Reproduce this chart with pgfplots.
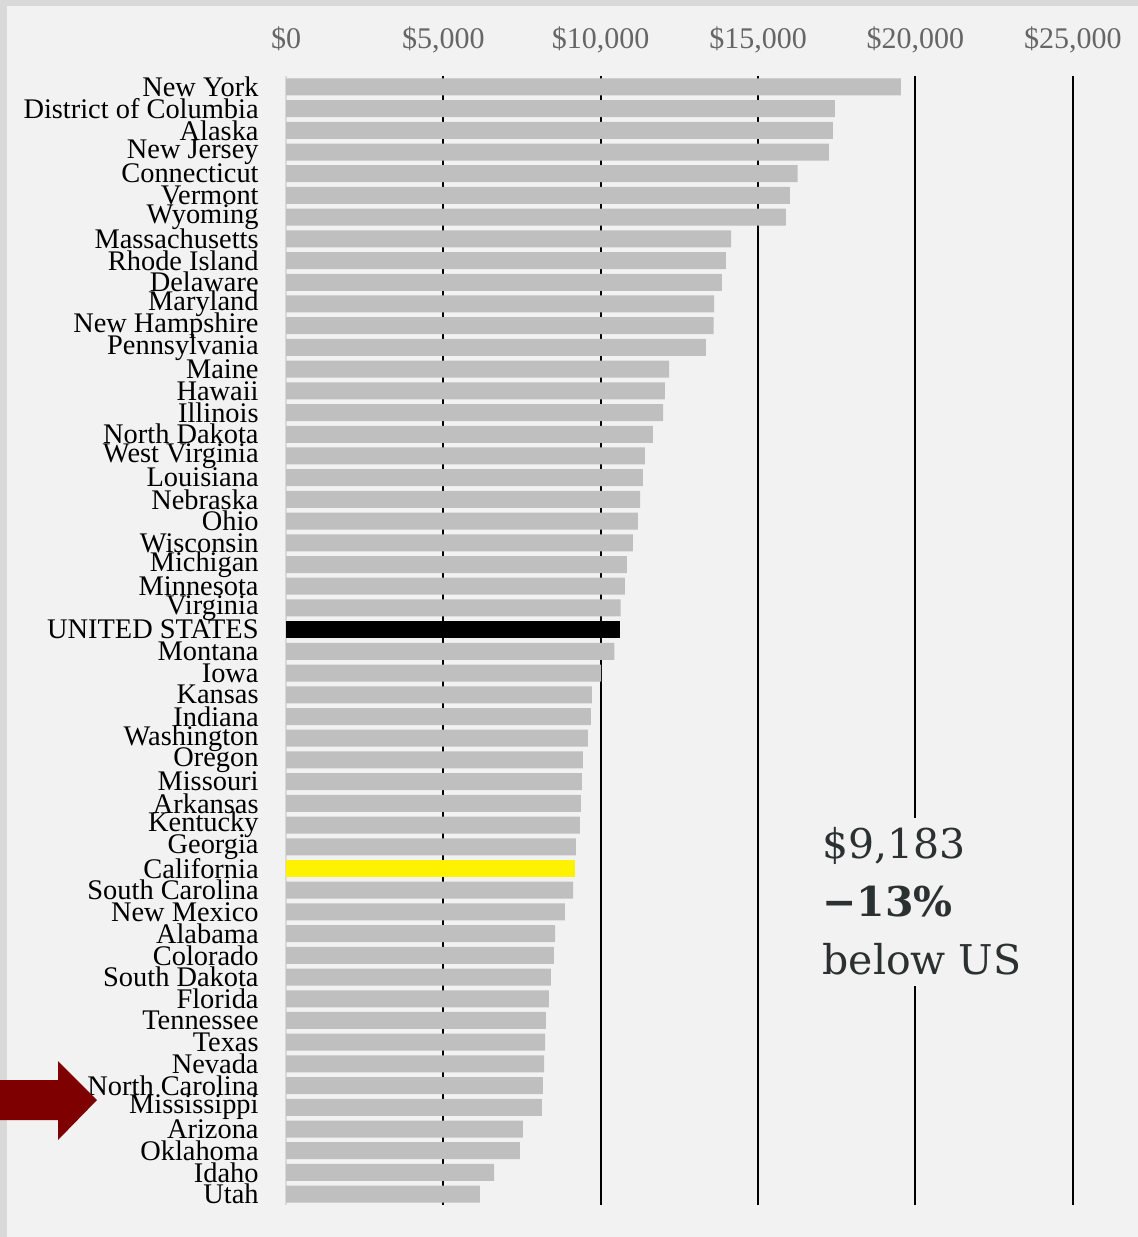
\documentclass[border=0pt]{standalone}
\usepackage{pgfplots}
\pgfplotsset{compat=1.18}
\usepackage{fontspec}
\setmainfont{Liberation Serif}
\newfontfamily\notefont{DejaVu Serif}

\definecolor{bg}{HTML}{F2F2F2}
\definecolor{frame}{HTML}{D9D9D9}
\definecolor{barg}{HTML}{BFBFBF}
\definecolor{tickgray}{HTML}{666666}
\definecolor{annot}{HTML}{2B3030}
\definecolor{arrowred}{HTML}{7F0000}

\begin{document}
\begin{tikzpicture}
% page background and frame
\fill[frame] (0,0) rectangle (569pt,-618.5pt);
\fill[bg] (3.5pt,-3pt) rectangle (569pt,-618.5pt);

\begin{axis}[
    at={(143pt,-38pt)}, anchor=north west,
    scale only axis, width=417pt, height=564.5pt,
    xbar, bar width=8.5pt, bar shift=0pt,
    xmin=0, xmax=26500,
    ymin=-0.5, ymax=51.5, y dir=reverse,
    axis line style={draw=none},
    major tick length=0pt,
    xtick={5000,10000,15000,20000,25000},
    xticklabels={{\$5,000},{\$10,000},{\$15,000},{\$20,000},{\$25,000}},
    extra x ticks={0}, extra x tick labels={\$0},
    extra x tick style={grid style={color=frame, line width=1pt}},
    xticklabel pos=upper,
    xticklabel style={font=\fontsize{15}{15}\selectfont, text=tickgray, anchor=base, yshift=14pt},
    xmajorgrids, grid style={black, line width=1pt},
    ytick={0,...,51},
    yticklabels={New York,District of Columbia,Alaska,New Jersey,Connecticut,Vermont,Wyoming,Massachusetts,Rhode Island,Delaware,Maryland,New Hampshire,Pennsylvania,Maine,Hawaii,Illinois,North Dakota,West Virginia,Louisiana,Nebraska,Ohio,Wisconsin,Michigan,Minnesota,Virginia,UNITED STATES,Montana,Iowa,Kansas,Indiana,Washington,Oregon,Missouri,Arkansas,Kentucky,Georgia,California,South Carolina,New Mexico,Alabama,Colorado,South Dakota,Florida,Tennessee,Texas,Nevada,North Carolina,Mississippi,Arizona,Oklahoma,Idaho,Utah},
    yticklabel style={font=\fontsize{14.2}{14.2}\selectfont, anchor=east, inner sep=0pt, xshift=-13.5pt},
    clip=false,
]

\addplot[fill=barg, draw=none] coordinates {
    (19540,0) (17440,1) (17380,2) (17250,3) (16260,4) (16010,5) (15880,6)
    (14140,7) (13980,8) (13850,9) (13600,10) (13590,11) (13340,12)
    (12170,13) (12040,14) (11980,15) (11660,16) (11400,17) (11340,18)
    (11250,19) (11180,20) (11020,21) (10830,22) (10770,23) (10630,24)
    (10430,26) (10010,27) (9720,28) (9690,29) (9590,30) (9430,31)
    (9400,32) (9370,33) (9340,34) (9210,35) (9120,37) (8860,38)
    (8550,39) (8510,40) (8420,41) (8350,42) (8260,43) (8230,44)
    (8200,45) (8160,46) (8130,47) (7530,48) (7430,49) (6610,50) (6160,51)
};
\addplot[fill=black, draw=none] coordinates {(10600,25)};
\addplot[fill=yellow, draw=none] coordinates {(9183,36)};

\node[fill=bg, anchor=west, align=left, inner xsep=4pt, inner ysep=5pt,
      font=\notefont\fontsize{20.5}{29}\selectfont, text=annot]
    at (axis cs:16780,37.53) {\$9,183\\\textbf{−13\%}\\below US};
\end{axis}

% pointer arrow
\fill[arrowred] (0,-540pt) -- (29pt,-540pt) -- (29pt,-530.5pt) -- (48.5pt,-550pt)
    -- (29pt,-570pt) -- (29pt,-560pt) -- (0,-560pt) -- cycle;

\pgfresetboundingbox
\path (0,0) rectangle (569pt,-618.5pt);
\end{tikzpicture}
\end{document}
